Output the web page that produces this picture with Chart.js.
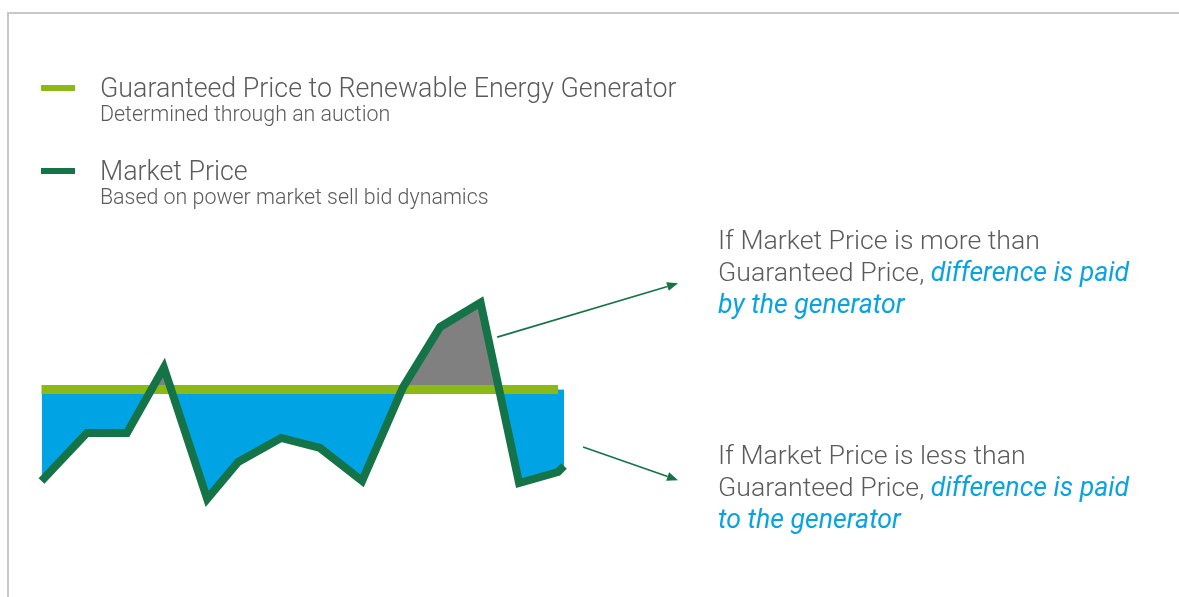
<!DOCTYPE html>
<html>
<head>
<meta charset="utf-8">
<script src="https://cdn.jsdelivr.net/npm/chart.js@4.4.0/dist/chart.umd.min.js"></script>
<style>
  html, body { margin: 0; padding: 0; background: #fff; }
  #wrap { position: relative; width: 1179px; height: 597px; overflow: hidden; font-family: Roboto, sans-serif; }
  #frame { position: absolute; left: 7px; top: 12px; right: 0; bottom: 0; border-top: 2px solid #c8c8c8; border-left: 2px solid #c8c8c8; }
  canvas { position: absolute; left: 0; top: 0; }
  .txt { position: absolute; white-space: nowrap; color: #5b5b5b; font-weight: 300; }
  .key { position: absolute; left: 41px; width: 34px; height: 6px; }
  .title { font-size: 26.8px; line-height: 30px; }
  .sub { font-size: 21.4px; line-height: 24px; }
  .note { font-size: 26.7px; line-height: 32px; }
  .note em { color: #0aa3e2; font-weight: 400; }
</style>
</head>
<body>
<div id="wrap">
  <div id="frame"></div>
  <canvas id="chart" width="1179" height="597"></canvas>

  <!-- legende -->
  <div class="key" style="top:85px;background:#8cb913"></div>
  <div class="txt title" style="left:100px;top:73px">Guaranteed Price to Renewable Energy Generator</div>
  <div class="txt sub" style="left:100px;top:102px">Determined through an auction</div>
  <div class="key" style="top:168px;background:#157447"></div>
  <div class="txt title" style="left:100px;top:156px">Market Price</div>
  <div class="txt sub" style="left:100px;top:185px">Based on power market sell bid dynamics</div>

  <!-- notes a droite -->
  <div class="txt note" style="left:718px;top:224px">If Market Price is more than<br>Guaranteed Price, <em>difference is paid<br>by the generator</em></div>
  <div class="txt note" style="left:718px;top:439px">If Market Price is less than<br>Guaranteed Price, <em>difference is paid<br>to the generator</em></div>
</div>

<script>
// les données
const periods = [0, 1.14, 2.15, 3.08, 4.17, 4.95, 6.03, 7.01, 8.07, 9.1, 10.03, 11.05, 12.02, 13, 13.15];
const marketPrice = [16.3, 36.3, 36.3, 63.5, 8.8, 24.2, 34.2, 30, 16.3, 55.4, 80.4, 90.6, 15.4, 20, 22.5];
const guaranteedPrice = 54.4;
const guaranteedSpan = [0, 13];

// flèches vers les notes (en unités du graphique)
const arrows = [
  { from: [11.47, 76.2], to: [16.02, 98.6] },
  { from: [13.63, 30.4], to: [16.02, 16.6] }
];

const DARK_GREEN = '#157447';

// plugin pour dessiner les flèches
const arrowPlugin = {
  id: 'arrows',
  afterDraw(chart) {
    const ctx = chart.ctx;
    const xs = chart.scales.x, ys = chart.scales.y;
    ctx.save();
    ctx.strokeStyle = DARK_GREEN;
    ctx.fillStyle = DARK_GREEN;
    ctx.lineWidth = 1.6;
    arrows.forEach(a => {
      const x1 = xs.getPixelForValue(a.from[0]), y1 = ys.getPixelForValue(a.from[1]);
      const x2 = xs.getPixelForValue(a.to[0]), y2 = ys.getPixelForValue(a.to[1]);
      const ang = Math.atan2(y2 - y1, x2 - x1);
      const len = 11, half = 4.5;
      const bx = x2 - len * Math.cos(ang), by = y2 - len * Math.sin(ang);
      ctx.beginPath();
      ctx.moveTo(x1, y1);
      ctx.lineTo(bx, by);
      ctx.stroke();
      ctx.beginPath();
      ctx.moveTo(x2, y2);
      ctx.lineTo(bx + half * Math.sin(ang), by - half * Math.cos(ang));
      ctx.lineTo(bx - half * Math.sin(ang), by + half * Math.cos(ang));
      ctx.closePath();
      ctx.fill();
    });
    ctx.restore();
  }
};

const data = {
  datasets: [
    {
      label: 'Market Price',
      data: periods.map((x, i) => ({ x: x, y: marketPrice[i] })),
      borderColor: DARK_GREEN,
      borderWidth: 8,
      borderJoinStyle: 'miter',
      fill: { target: 2, above: '#808080', below: '#00a4e4' },
      clip: false,
      order: 0
    },
    {
      label: 'Guaranteed Price',
      data: guaranteedSpan.map(x => ({ x: x, y: guaranteedPrice })),
      borderColor: '#8cb913',
      borderWidth: 9,
      fill: false,
      clip: false,
      order: 1
    },
    {
      // ligne invisible qui sert de base au remplissage
      label: 'base',
      data: periods.map(x => ({ x: x, y: guaranteedPrice })),
      borderColor: 'rgba(0,0,0,0)',
      borderWidth: 0,
      fill: false,
      order: 2
    }
  ]
};

const config = {
  type: 'line',
  data: data,
  options: {
    responsive: false,
    animation: false,
    layout: { padding: { left: 41.5, right: 615, top: 280, bottom: 77 } },
    elements: { point: { radius: 0 }, line: { tension: 0 } },
    scales: {
      x: { type: 'linear', min: 0, max: 13.15, display: false },
      y: { min: 0, max: 100, display: false }
    },
    plugins: {
      legend: { display: false },
      tooltip: { enabled: false },
      filler: { drawTime: 'beforeDatasetsDraw' }
    }
  },
  plugins: [arrowPlugin]
};

var myChart = new Chart(document.getElementById('chart'), config);
</script>
</body>
</html>
